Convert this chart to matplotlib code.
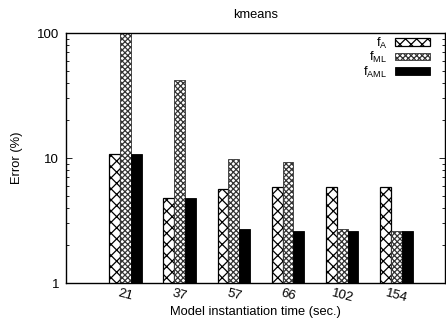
import matplotlib
matplotlib.use('Agg')
import matplotlib.pyplot as plt
import numpy as np
from matplotlib.ticker import LogLocator, NullFormatter, FixedLocator

plt.rcParams['font.family'] = ['Liberation Sans', 'DejaVu Sans']
plt.rcParams['mathtext.fontset'] = 'custom'
plt.rcParams['mathtext.rm'] = 'Liberation Sans'
plt.rcParams['hatch.linewidth'] = 0.9

times = ['21', '37', '57', '66', '102', '154']
f_a = [10.7, 4.75, 5.7, 5.85, 5.85, 5.85]
f_ml = [100, 42, 9.9, 9.35, 2.72, 2.62]
f_aml = [10.7, 4.75, 2.72, 2.62, 2.62, 2.62]

fs = 9.3

fig = plt.figure(figsize=(4.46, 3.24), dpi=100)
ax = fig.add_axes([0.148, 0.1265, 0.85, 0.7715])

x = np.arange(len(times))
w = 0.2
ax.bar(x - w, f_a, w, color='white', edgecolor='black', hatch='xxx',
       linewidth=0.9, label=r'f$_\mathrm{A}$')
ax.bar(x, f_ml, w, color='white', edgecolor='#333333', hatch='xxxxxx',
       linewidth=0.6, label=r'f$_\mathrm{ML}$')
ax.bar(x + w, f_aml, w, color='black', edgecolor='black',
       linewidth=0.6, label=r'f$_\mathrm{AML}$')

ax.set_yscale('log')
ax.set_ylim(1, 100)
ax.set_xlim(-1.1, 5.9)
ax.yaxis.set_major_locator(FixedLocator([1, 10, 100]))
ax.set_yticklabels(['1', '10', '100'])
ax.yaxis.set_minor_locator(LogLocator(base=10, subs=np.arange(2, 10)))
ax.yaxis.set_minor_formatter(NullFormatter())
ax.tick_params(axis='y', which='both', direction='in', left=True, right=True,
               labelsize=9.5, pad=5)
ax.tick_params(axis='y', which='major', length=4, width=0.6)
ax.tick_params(axis='y', which='minor', length=2, width=0.6)

ax.set_xticks(x)
ax.set_xticklabels(times, rotation=-15, ha='center', va='top', fontsize=9.5)
ax.tick_params(axis='x', length=0, pad=3)

for s in ax.spines.values():
    s.set_linewidth(1.0)

ax.set_title('kmeans', fontsize=fs, pad=11)
ax.set_xlabel('Model instantiation time (sec.)', fontsize=fs, labelpad=1)
ax.set_ylabel('Error (%)', fontsize=fs, labelpad=10)

ax.legend(loc='upper right', frameon=False, markerfirst=False, fontsize=fs,
          handlelength=2.7, handleheight=0.55, labelspacing=-0.05,
          handletextpad=0.6, borderaxespad=0.0, borderpad=0.0,
          bbox_to_anchor=(0.96, 0.99))

fig.savefig('out.png', dpi=100)
